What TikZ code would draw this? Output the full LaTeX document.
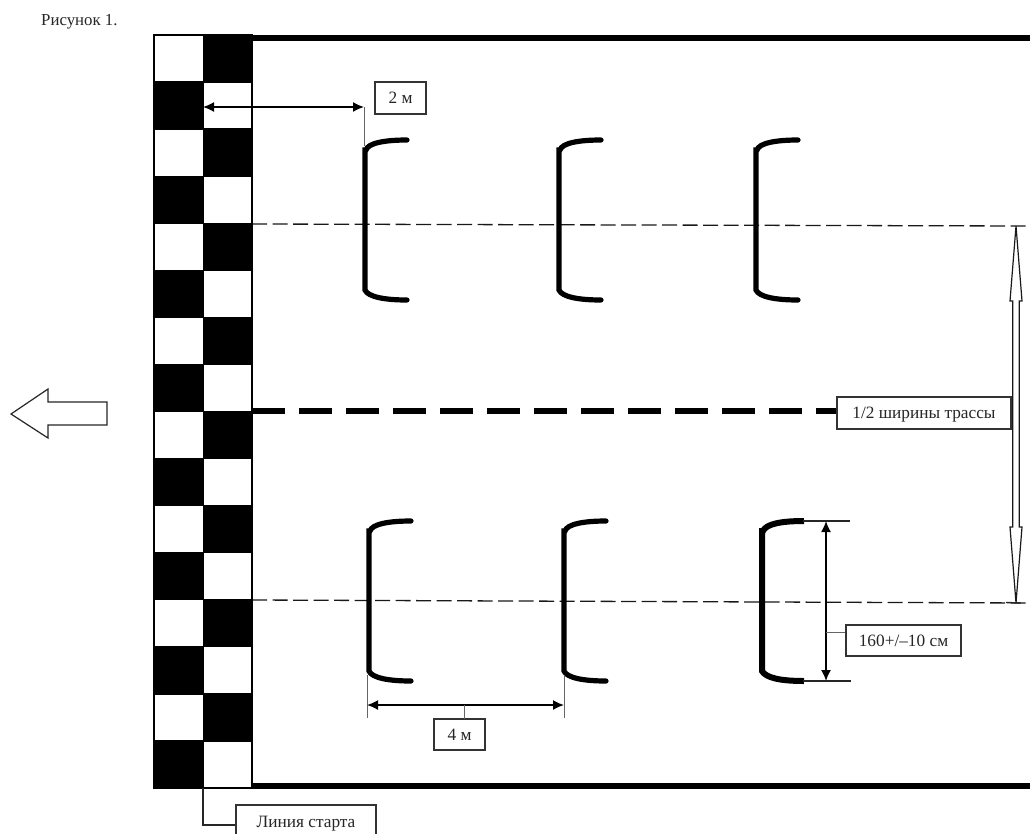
\documentclass[tikz,border=0pt]{standalone}
\usepackage{fontspec}
\setmainfont{Liberation Serif}
\usetikzlibrary{arrows.meta,calc}
\tikzset{
  lbl/.style={draw=black!80,line width=1.2pt,fill=white,inner sep=0pt,text height=11.5pt,text depth=0pt,font=\fontsize{17.3}{20}\selectfont,text=black!85},
  wall/.style={line width=6.5pt,black},
  thindash/.style={line width=1.3pt,black!90,dash pattern=on 15pt off 5.5pt},
  centre/.style={line width=6.5pt,black,dash pattern=on 33pt off 14pt},
  tyre/.style={line width=5.2pt,black,line cap=round},
  dim/.style={line width=1.6pt,black,{Latex[length=11pt,width=10pt]}-{Latex[length=11pt,width=10pt]}},
  lead/.style={line width=1pt,black!60},
  ext/.style={line width=1.2pt,black!85},
  bracket/.pic={
    \draw[tyre] (42,-80) .. controls (20,-80) and (3,-77) .. (1,-70) -- (0,-70) -- (0,70) .. controls (3,77) and (20,80) .. (42,80);
  }
}
\begin{document}
\begin{tikzpicture}[x=1pt,y=-1pt]
\useasboundingbox (0,0) rectangle (1030,833);
\fill[white] (0,0) rectangle (1030,833);
\node[anchor=west,inner sep=0pt,font=\fontsize{16.8}{20}\selectfont,text=black!85] (title) at (41,21.5) {Рисунок 1.};

% track borders
\coordinate (wt) at (1030,38); \coordinate (wb) at (1030,786);
\coordinate (ct) at (252,38); \coordinate (cb) at (252,786);
\draw[wall] (ct) -- (wt);
\draw[wall] (cb) -- (wb);

% dashed lines
\coordinate (da0) at (252,224); \coordinate (da1) at (1030,226);
\coordinate (db0) at (252,600); \coordinate (db1) at (1030,603);
\draw[thindash] (da0) -- (da1);
\draw[thindash] (db0) -- (db1);

% brackets
\foreach \n/\x/\y in {a/365/220,b/559/220,c/756/220,d/369/601,e/564/601}
  \pic (\n) at (\x,\y) {bracket};
\draw[line width=6pt,black] (804,521) .. controls (781,521) and (766,524) .. (763,531) -- (762,531) -- (762,671) .. controls (766,678) and (781,681) .. (804,681);

% checker
\foreach \r in {0,...,15}{
  \pgfmathsetmacro{\ya}{35+\r*47.06}
  \pgfmathsetmacro{\yb}{35+(\r+1)*47.06}
  \ifodd\r
    \fill[black] (154,\ya) rectangle (203,\yb);
    \fill[white] (203,\ya) rectangle (252,\yb);
  \else
    \fill[white] (154,\ya) rectangle (203,\yb);
    \fill[black] (203,\ya) rectangle (252,\yb);
  \fi
}
\draw[black,line width=2pt] (154,35) rectangle (252,788);
\draw[black,line width=1pt] (203,35) -- (203,788);
\foreach \r in {1,...,15}{
  \pgfmathsetmacro{\ya}{35+\r*47.06}
  \draw[black,line width=1.3pt] (154,\ya) -- (252,\ya);
}

% centre line & label
\node[lbl,minimum width=174pt,minimum height=32pt] (half) at (924,413) {1/2 ширины трассы};
\coordinate (c0) at (252,411);
\draw[centre] (c0) -- (half.west |- c0);

% double-lined arrow
\coordinate (at) at (1016,226); \coordinate (ab) at (1016,603);
\draw[line width=1.2pt,black!90,fill=white,line join=miter]
  (at) -- (1022,301) -- (1019.3,301) -- (1019.3,527) -- (1022,527) -- (ab)
  -- (1010,527) -- (1012.7,527) -- (1012.7,301) -- (1010,301) -- cycle;
\draw[line width=1.4pt,black!85] (1006,602.5) -- (1021,603);

% 2 m
\node[lbl,minimum width=51pt,minimum height=32pt] (m2) at (400.5,98) {2 м};
\coordinate (p2a) at (203,107); \coordinate (p2b) at (364,107); \coordinate (p2c) at (364,146);
\draw[dim] (p2a) -- (p2b);
\draw[lead] (p2b) -- (p2c);

% 4 m
\node[lbl,minimum width=51pt,minimum height=31pt] (m4) at (459.5,734.5) {4 м};
\coordinate (p4a) at (367,705); \coordinate (p4b) at (564,705);
\coordinate (p4c) at (464,705); \coordinate (p4d) at (464,719);
\draw[lead] (367,675) -- (367,718);
\draw[lead] (564,675) -- (564,718);
\draw[dim] (p4a) -- (p4b);
\draw[lead] (p4c) -- (p4d);

% 160
\node[lbl,minimum width=115pt,minimum height=31pt] (m160) at (903.5,640.5) {160+/–10 см};
\coordinate (ha) at (826,521); \coordinate (hb) at (826,681);
\draw[ext] (803,521) -- (850,521);
\draw[ext] (803,681) -- (851,681);
\draw[dim] (ha) -- (hb);
\coordinate (hc) at (826,632.5);
\draw[lead] (hc) -- (hc -| m160.west);

% start line label
\node[lbl,minimum width=140pt,minimum height=34pt] (start) at (306,822) {Линия старта};
\coordinate (s0) at (203,788); \coordinate (s1) at (203,825);
\draw[black!85,line width=1.2pt] (s0) -- (s1) -- (s1 -| start.west);

% direction arrow
\draw[line width=1.2pt,black!85,fill=white,line join=miter]
  (11,414) -- (48,389) -- (48,402) -- (107,402) -- (107,425) -- (48,425) -- (48,438) -- cycle;
\end{tikzpicture}
\end{document}
